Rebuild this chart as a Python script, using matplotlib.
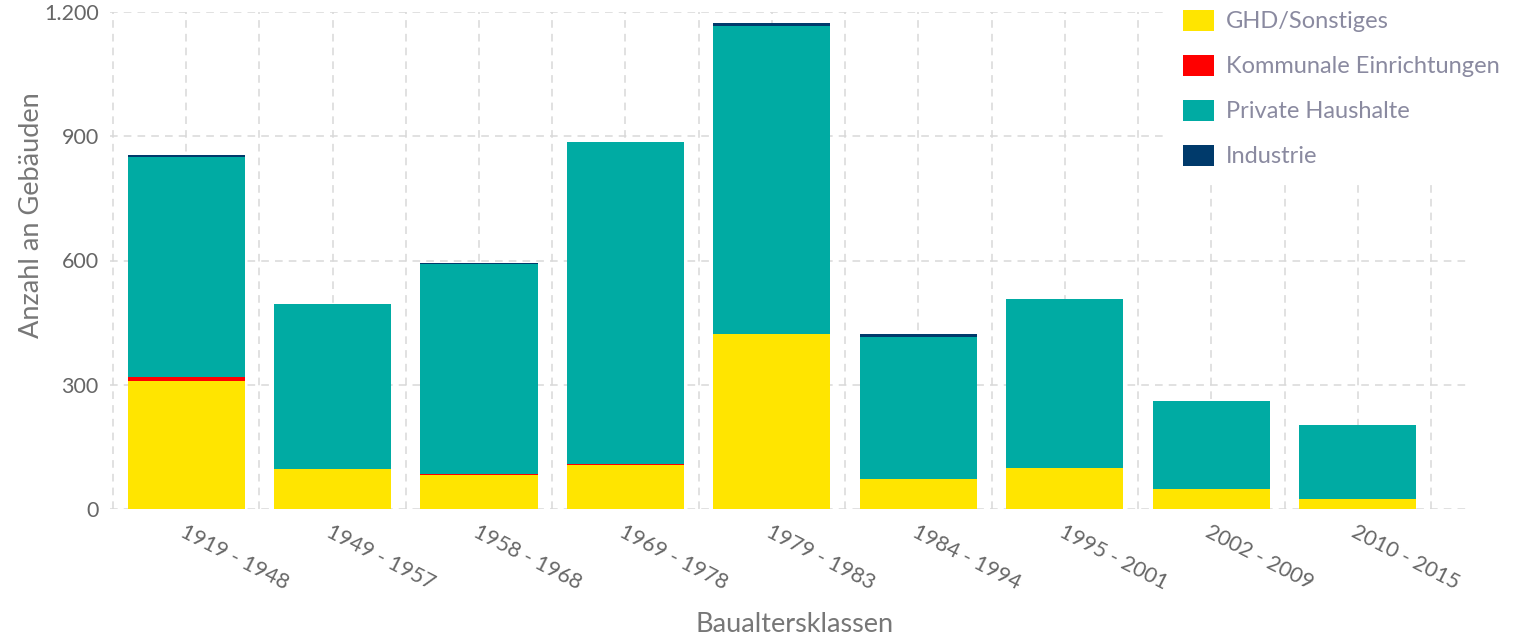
import matplotlib
matplotlib.use("Agg")
import matplotlib.pyplot as plt
import numpy as np
from matplotlib.ticker import FuncFormatter, MultipleLocator

plt.rcParams['font.family'] = ['Lato', 'DejaVu Sans']

categories = ["1919 - 1948", "1949 - 1957", "1958 - 1968", "1969 - 1978", "1979 - 1983",
              "1984 - 1994", "1995 - 2001", "2002 - 2009", "2010 - 2015"]
ghd = [310, 96, 82, 106, 422, 72, 99, 48, 24]
kommunal = [8, 0, 2, 3, 1, 0, 0, 0, 0]
privat = [532, 400, 508, 776, 744, 344, 407, 212, 178]
industrie = [5, 0, 2, 0, 7, 6, 2, 0, 0]

series_names = ["GHD/Sonstiges", "Kommunale Einrichtungen", "Private Haushalte", "Industrie"]
series_vals = [ghd, kommunal, privat, industrie]
colors = ["#FFE500", "#FF0000", "#00ABA3", "#003A6B"]

fig = plt.figure(figsize=(15.27, 6.39), dpi=100)
ax = fig.add_axes([0.072, 1 - 509/639, 0.891, (509 - 12)/639])

x = np.arange(len(categories))
bottom = np.zeros(len(categories))
for name, vals, c in zip(series_names, series_vals, colors):
    ax.bar(x, vals, bottom=bottom, width=0.8, color=c, label=name, zorder=3)
    bottom += np.array(vals)

ax.set_ylim(0, 1200)
ax.set_xlim(-0.52, 8.77)
ax.yaxis.set_major_locator(MultipleLocator(300))
ax.yaxis.set_major_formatter(FuncFormatter(lambda v, p: f"{int(v):,}".replace(",", ".")))
ax.set_xticks(x)
ax.set_xticks(np.arange(-0.5, 9.0, 1.0), minor=True)
ax.set_xticklabels(categories, rotation=-27, ha='left', va='top', rotation_mode='anchor',
                   fontsize=15.5, color='#666666')
ax.tick_params(axis='x', which='both', length=0, pad=9)
ax.tick_params(axis='y', length=0, labelsize=15.5, labelcolor='#666666', pad=8)

grid_kw = dict(color='#d8d8d8', linestyle=(0, (5, 4)), linewidth=1.1, zorder=0)
ax.grid(axis='y', **grid_kw)
ax.grid(axis='x', which='both', **grid_kw)
for s in ax.spines.values():
    s.set_visible(False)
ax.set_axisbelow(True)

fig.text(32/1527, 1 - 215/639, "Anzahl an Gebäuden", rotation=90, ha='center', va='center',
         fontsize=19.5, color='#777777')
fig.text(795/1527, 1 - 624/639, "Baualtersklassen", ha='center', va='center',
         fontsize=19.5, color='#777777')

leg = ax.legend(loc='upper left', bbox_to_anchor=(0.782, 1.024), frameon=True,
                fontsize=17, handlelength=1.3, handleheight=1.0, handletextpad=0.5,
                labelspacing=0.95, borderaxespad=0, borderpad=0.4)
leg.get_frame().set_facecolor('white')
leg.get_frame().set_edgecolor('none')
leg.get_frame().set_alpha(1.0)
leg.get_frame().set_boxstyle('square', pad=0.3)
for t in leg.get_texts():
    t.set_color('#8a8aa0')

fig.savefig("out.png", dpi=100)
